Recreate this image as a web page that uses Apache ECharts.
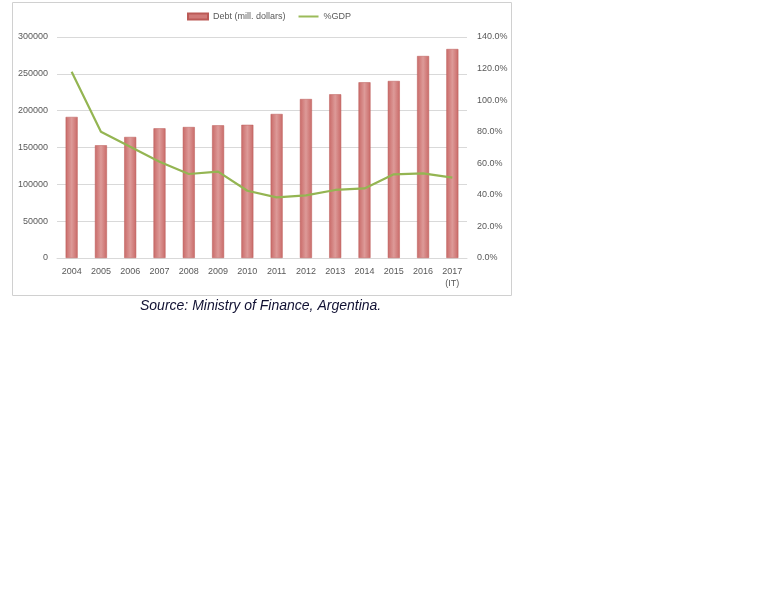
<!DOCTYPE html>
<html>
<head>
<meta charset="utf-8">
<script src="https://cdn.jsdelivr.net/npm/echarts@6/dist/echarts.min.js"></script>
<style>
  html, body { margin: 0; padding: 0; background: #fff; }
  #debtChart { width: 768px; height: 614px; }
</style>
</head>
<body>
<div id="debtChart"></div>
<script>
// data
var years = ['2004', '2005', '2006', '2007', '2008', '2009', '2010',
             '2011', '2012', '2013', '2014', '2015', '2016', '2017\n(IT)'];
var debt = [191500, 153000, 164300, 176000, 177800, 180100, 180800,
            195500, 215800, 222200, 238500, 240300, 274200, 283700];
var gdpPct = [118.0, 80.0, 70.5, 61.0, 53.2, 54.7, 42.6,
              38.4, 39.7, 43.1, 44.1, 53.0, 53.6, 50.9];

var labelColor = '#595959';
var gridColor = '#d9d9d9';
var labelFont = 'Liberation Sans';

var chart = echarts.init(document.getElementById('debtChart'));

var option = {
    animation: false,
    legend: {
        top: 7,
        left: 182,
        itemWidth: 20,
        itemHeight: 6,
        itemGap: 12,
        textStyle: { color: labelColor, fontSize: 9, fontFamily: labelFont },
        data: [
            { name: 'Debt (mill. dollars)', icon: 'rect', itemStyle: { color: '#d07a78' } },
            { name: '%GDP', itemStyle: { opacity: 0 }, lineStyle: { color: '#9bbb59', width: 2 } }
        ]
    },
    grid: {
        left: 57,
        right: 301,
        top: 37,
        bottom: 356
    },
    xAxis: {
        type: 'category',
        data: years,
        axisLine: { lineStyle: { color: gridColor } },
        axisTick: { show: false },
        axisLabel: {
            color: labelColor,
            fontSize: 9,
            fontFamily: labelFont,
            margin: 8,
            lineHeight: 12
        }
    },
    yAxis: [
        {
            type: 'value',
            min: 0,
            max: 300000,
            interval: 50000,
            axisLine: { show: false },
            axisTick: { show: false },
            splitLine: { lineStyle: { color: gridColor } },
            axisLabel: {
                color: labelColor,
                fontSize: 9,
                fontFamily: labelFont,
                margin: 9,
                formatter: function (v) { return String(v); }
            }
        },
        {
            type: 'value',
            min: 0,
            max: 140,
            interval: 20,
            axisLine: { show: false },
            axisTick: { show: false },
            splitLine: { show: false },
            axisLabel: {
                color: labelColor,
                fontSize: 9,
                fontFamily: labelFont,
                margin: 10,
                formatter: function (v) { return v.toFixed(1) + '%'; }
            }
        }
    ],
    series: [
        {
            name: 'Debt (mill. dollars)',
            type: 'bar',
            data: debt,
            barWidth: 12,
            itemStyle: {
                color: new echarts.graphic.LinearGradient(0, 0, 1, 0, [
                    { offset: 0, color: '#c96a68' },
                    { offset: 0.5, color: '#dd9a98' },
                    { offset: 1, color: '#c96a68' }
                ]),
                borderColor: '#bb5a57',
                borderWidth: 0.5
            }
        },
        {
            name: '%GDP',
            type: 'line',
            yAxisIndex: 1,
            data: gdpPct,
            showSymbol: false,
            symbol: 'none',
            lineStyle: { color: '#94b552', width: 2.2 },
            itemStyle: { color: '#94b552' }
        }
    ],
    graphic: [
        {
            type: 'rect',
            shape: { x: 12.5, y: 2.5, width: 499, height: 293 },
            style: { fill: 'none', stroke: '#d0d0d0', lineWidth: 1 },
            silent: true
        },
        {
            type: 'text',
            left: 140,
            top: 299,
            style: {
                text: 'Source: Ministry of Finance, Argentina.',
                font: 'italic 14px "Liberation Sans", Arial, sans-serif',
                fill: '#111133'
            }
        }
    ]
};

chart.setOption(option);
</script>
</body>
</html>
